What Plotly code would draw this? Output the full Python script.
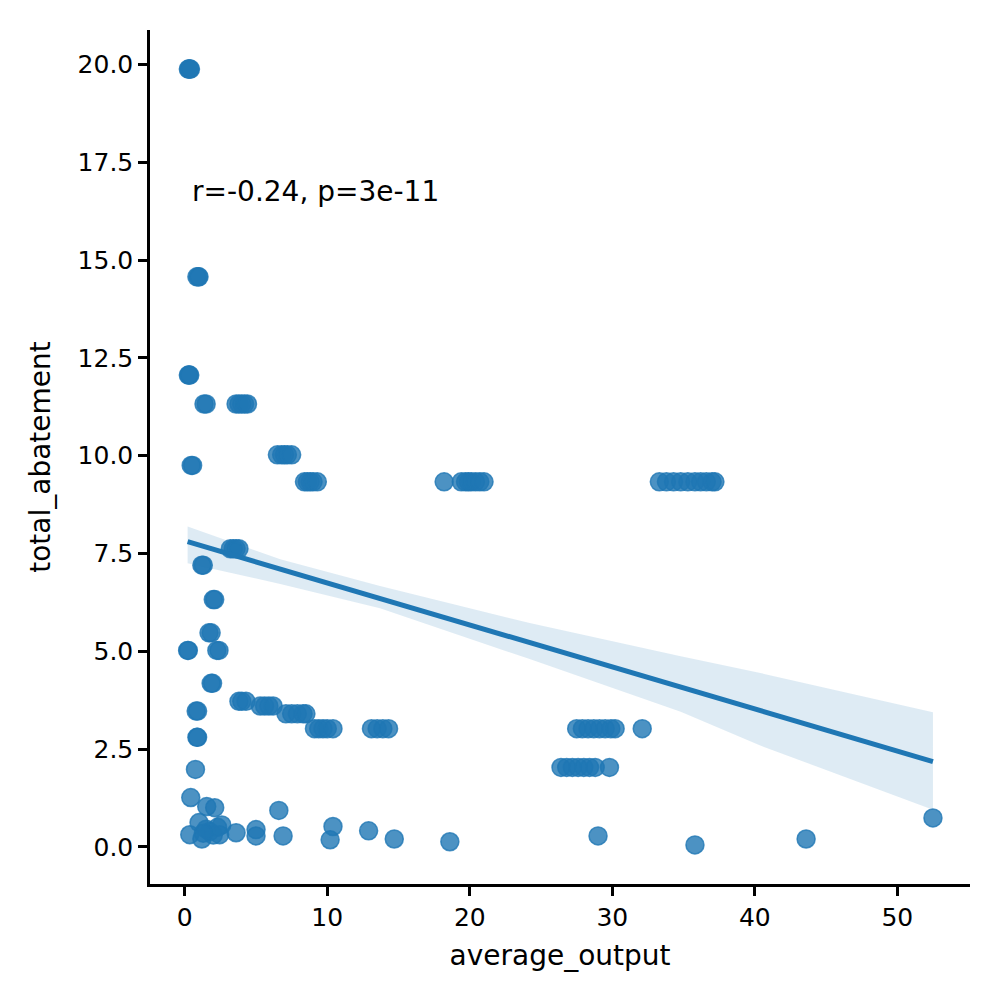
import plotly.graph_objects as go

# banded clusters: one y level, many x values
level_y = [19.88, 14.57, 12.06, 11.32, 10.02, 9.75, 9.33, 7.62, 7.2, 6.32,
           5.47, 5.02, 4.18, 3.72, 3.6, 3.47, 3.4, 3.02, 2.8, 2.03, 1.98, 1.26]
level_x = [
    [0.25, 0.3, 0.35, 0.4],
    [0.85, 0.95, 1.0],
    [0.25, 0.3, 0.35],
    [1.35, 1.5, 3.6, 3.8, 4.0, 4.2, 4.4],
    [6.5, 6.8, 7.0, 7.2, 7.5],
    [0.45, 0.55],
    [8.4, 8.6, 8.8, 9.0, 9.3,
     18.2, 19.4, 19.7, 19.9, 20.1, 20.4, 20.7, 21.0,
     33.3, 33.8, 34.3, 34.8, 35.3, 35.8, 36.2, 36.6, 37.0, 37.2],
    [3.2, 3.4, 3.6, 3.8],
    [1.2, 1.3],
    [2.0, 2.1],
    [1.7, 1.85],
    [0.2, 0.25, 2.25, 2.4],
    [1.85, 1.95],
    [3.8, 4.0, 4.3],
    [5.3, 5.6, 5.9, 6.2],
    [0.8, 0.9],
    [7.1, 7.5, 7.9, 8.3, 8.5],
    [9.1, 9.4, 9.7, 10.0, 10.4,
     13.1, 13.5, 13.9, 14.3,
     27.5, 27.9, 28.3, 28.7, 29.1, 29.5, 29.9, 30.2, 32.1],
    [0.85, 0.9],
    [26.4, 26.8, 27.2, 27.6, 28.0, 28.4, 28.8, 29.8],
    [0.75],
    [0.42],
]

# scattered low points
low_x = [1.54, 2.1, 6.6, 1.0, 2.6, 0.35, 1.2, 1.75, 2.45, 3.6, 5.0, 5.0, 6.9,
         10.4, 10.2, 12.9, 14.7, 29.0, 18.6, 35.8, 43.6, 52.5, 1.5, 2.0, 2.3, 1.3]
low_y = [1.03, 1.0, 0.93, 0.62, 0.56, 0.31, 0.2, 0.39, 0.31, 0.36, 0.44, 0.28, 0.28,
         0.52, 0.18, 0.41, 0.2, 0.28, 0.13, 0.05, 0.2, 0.74, 0.45, 0.3, 0.5, 0.35]

# regression line and bootstrap band
fit_x = [0.2, 52.5]
fit_y = [7.80, 2.18]
band_x = [0.2, 6.7, 13.7, 24.2, 34.8, 40.3, 52.5]
band_lo = [7.25, 6.72, 6.1, 4.8, 3.45, 2.6, 0.95]
band_hi = [8.19, 7.35, 6.67, 5.72, 4.87, 4.45, 3.44]

stat_text = "r=-0.24, p=3e-11"

x_ticks = [0, 10, 20, 30, 40, 50]
y_ticks = [0.0, 2.5, 5.0, 7.5, 10.0, 12.5, 15.0, 17.5, 20.0]

xs, ys = [], []
for yv, row in zip(level_y, level_x):
    xs += row
    ys += [yv] * len(row)
xs += low_x
ys += low_y

blue = "#1f77b4"
textsize = 23
ticksize = 25

fig = go.Figure()

fig.add_trace(go.Scatter(
    x=xs, y=ys, mode="markers",
    marker=dict(size=18, color="rgba(31,119,180,0.8)",
                line=dict(width=1.5, color="rgba(31,119,180,0.8)")),
    showlegend=False,
))

fig.add_trace(go.Scatter(
    x=band_x, y=band_lo, mode="lines", line=dict(width=0),
    showlegend=False, hoverinfo="skip",
))
fig.add_trace(go.Scatter(
    x=band_x, y=band_hi, mode="lines", line=dict(width=0),
    fill="tonexty", fillcolor="rgba(31,119,180,0.15)",
    showlegend=False, hoverinfo="skip",
))

fig.add_trace(go.Scatter(
    x=fit_x, y=fit_y, mode="lines",
    line=dict(color=blue, width=5),
    showlegend=False,
))

fig.add_annotation(
    x=0.35, y=16.75, xref="x", yref="y",
    text=stat_text, showarrow=False,
    xanchor="left", yanchor="middle",
    font=dict(size=28, family="DejaVu Sans", color="black"),
)

fig.update_layout(
    width=1000, height=1000,
    plot_bgcolor="white", paper_bgcolor="white",
    margin=dict(l=142, r=38, t=22, b=124),
    font=dict(family="DejaVu Sans", size=textsize, color="black"),
    xaxis=dict(
        range=[-2.44, 55.1],
        tickvals=x_ticks,
        tickfont=dict(size=ticksize),
        title=dict(text="average_output", standoff=15),
        showline=True, linecolor="black", linewidth=2.5,
        ticks="outside", ticklen=9, tickwidth=2.5, tickcolor="black",
        showgrid=False, zeroline=False,
    ),
    yaxis=dict(
        range=[-0.95, 20.88],
        tickvals=y_ticks, tickformat=".1f",
        tickfont=dict(size=ticksize),
        title=dict(text="total_abatement", standoff=19),
        showline=True, linecolor="black", linewidth=2.5,
        ticks="outside", ticklen=9, tickwidth=2.5, tickcolor="black",
        showgrid=False, zeroline=False,
    ),
)

fig.write_html("out.html")
